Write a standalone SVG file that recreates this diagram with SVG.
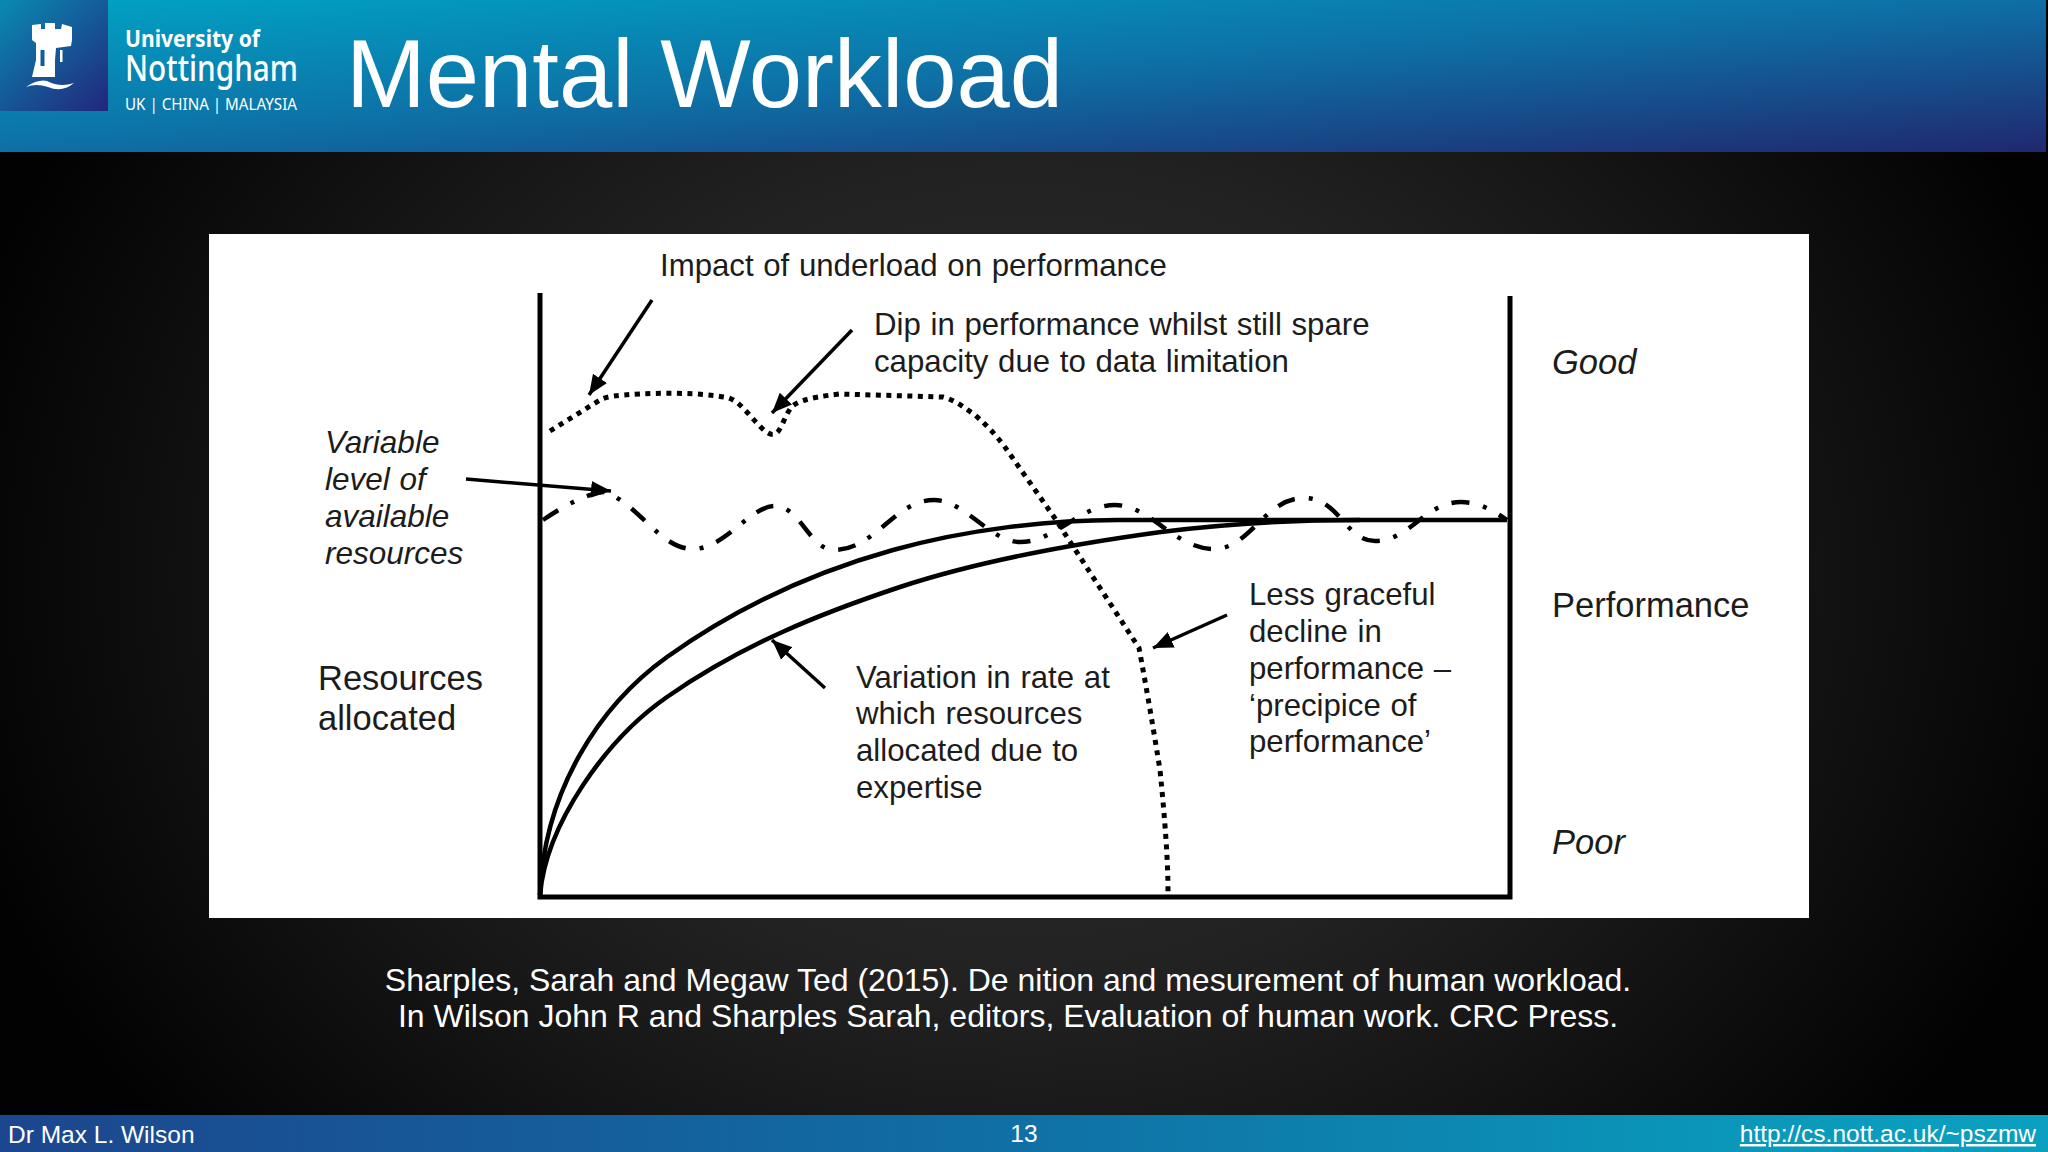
<svg xmlns="http://www.w3.org/2000/svg" width="2048" height="1152" viewBox="0 0 2048 1152">
<defs>
<radialGradient id="bg" gradientUnits="userSpaceOnUse" cx="0" cy="0" r="1" gradientTransform="translate(1024 576) scale(1100 900)"><stop offset="0" stop-color="#303030"/><stop offset="0.45" stop-color="#222"/><stop offset="0.7" stop-color="#141414"/><stop offset="1" stop-color="#020202"/></radialGradient>
<linearGradient id="hd" x1="0" y1="0" x2="1" y2="1"><stop offset="0" stop-color="#00a3c4"/><stop offset="0.5" stop-color="#0e6fa5"/><stop offset="1" stop-color="#20286f"/></linearGradient>
<linearGradient id="ft" x1="0" y1="0" x2="1" y2="0"><stop offset="0" stop-color="#1c468e"/><stop offset="0.5" stop-color="#1070a5"/><stop offset="0.85" stop-color="#0a98ba"/><stop offset="1" stop-color="#0aa0c0"/></linearGradient>
<linearGradient id="lg" x1="0.1" y1="0" x2="1" y2="1"><stop offset="0" stop-color="#0a86b0"/><stop offset="1" stop-color="#22267c"/></linearGradient>
<marker id="ah" markerUnits="userSpaceOnUse" markerWidth="22" markerHeight="18" refX="20" refY="9" orient="auto"><path d="M0 .5L20 9L0 17.500z" fill="#000"/></marker>
</defs>
<style>
.t{font-family:"Liberation Sans",Arial,sans-serif;font-size:31.2px;word-spacing:1px;fill:#1c1c1c}
.i{font-style:italic;font-size:31.5px}
.b{font-size:34.5px;word-spacing:0}
.w{font-family:"Liberation Sans",Arial,sans-serif;fill:#fff}
.l{font-family:"Noto Sans",sans-serif;fill:#fff}
.ax{stroke:#000;stroke-width:5;fill:none}
.cv{stroke:#000;stroke-width:4.500;fill:none}
.ar{stroke:#000;stroke-width:3.500;fill:none;marker-end:url(#ah)}
</style>
<rect width="2048" height="1152" fill="url(#bg)"/>
<g id="header">
<rect width="2046" height="152" fill="url(#hd)"/>
<rect width="108" height="111" fill="url(#lg)"/>
<path fill-rule="evenodd" d="M32 25L41 24V29H45V23H55V29H61L62 24L72 27V40L71 46L56 48L55 60V77H32L36 60V43L32 40zM40.500 50V66H44.500V50z" fill="#fff"/>
<rect x="60" y="50" width="2.500" height="12" fill="#fff"/>
<path d="M26 87Q38 79 47 81Q60 88 74 83Q62 93 48 87Q36 83 26 87z" fill="#fff"/>
<text class="l" x="125" y="47" font-size="24" font-weight="700" textLength="135" lengthAdjust="spacingAndGlyphs">University of</text>
<text class="l" x="125" y="81" font-size="36" font-weight="500" textLength="173" lengthAdjust="spacingAndGlyphs">Nottingham</text>
<text class="l" x="125" y="110" font-size="15.500" textLength="172" lengthAdjust="spacingAndGlyphs">UK | CHINA | MALAYSIA</text>
<text class="w" x="346" y="107" font-size="95.800">Mental Workload</text>
</g>
<rect id="panel" x="209" y="234" width="1600" height="684" fill="#fff"/>
<g id="axes">
<path class="ax" d="M540 293V897H1510V296"/>
</g>
<g id="connectors">
<path class="ar" d="M652 300L589 395"/>
<path class="ar" d="M852 330L772 413"/>
<path class="ar" d="M466 479L611 491"/>
<path class="ar" d="M1227 615L1153 648"/>
<path class="ar" d="M825 688L772 640"/>
</g>
<g id="curves">
<path d="M550 431L600 400C607 396 620 395 640 394C660 393 700 392 729 398C740 402 748 414 757 423C764 431 770 436 775 434C781 431 783 420 790 409C795 402 805 398 839 394L943 397C955 400 965 408 975 415C990 428 1000 440 1007 450L1054 517L1139 648C1145 680 1152 720 1160 770C1165 820 1168 860 1168 892" fill="none" stroke="#000" stroke-width="5" stroke-dasharray="5 5.500"/>
<path d="M543 520C565 505 590 492 605 492C640 505 660 549 693 549C725 549 750 506 775 506C800 506 810 550 834 550C875 550 895 500 934 500C965 500 990 542 1020 542C1055 542 1080 505 1115 505C1150 505 1175 549 1214 549C1250 549 1265 498 1304 498C1340 498 1345 541 1375 541C1410 541 1425 502 1461 502C1480 502 1495 512 1507 520" fill="none" stroke="#000" stroke-width="4.500" stroke-dasharray="18 14 4 14"/>
<path class="cv" d="M540 895C544 790 600 705 667 657C742 603 818 571 893 550C968 529 1050 520 1118 520H1507"/>
<path class="cv" d="M540 895C546 825 605 740 667 697C745 643 822 613 900 587C985 559 1080 543 1161 532C1225 524 1300 520 1360 520"/>
</g>
<g id="labels">
<text class="t" x="660" y="276">Impact of underload on performance</text>
<text class="t" x="874" y="335">Dip in performance whilst still spare</text>
<text class="t" x="874" y="372">capacity due to data limitation</text>
<text class="t i" x="325" y="453">Variable</text>
<text class="t i" x="325" y="490">level of</text>
<text class="t i" x="325" y="527">available</text>
<text class="t i" x="325" y="564">resources</text>
<text class="t b" x="318" y="690">Resources</text>
<text class="t b" x="318" y="730">allocated</text>
<text class="t" x="856" y="688">Variation in rate at</text>
<text class="t" x="856" y="724">which resources</text>
<text class="t" x="856" y="761">allocated due to</text>
<text class="t" x="856" y="798">expertise</text>
<text class="t" x="1249" y="605">Less graceful</text>
<text class="t" x="1249" y="642">decline in</text>
<text class="t" x="1249" y="679">performance –</text>
<text class="t" x="1249" y="716">‘precipice of</text>
<text class="t" x="1249" y="752">performance’</text>
<text class="t i b" x="1552" y="374">Good</text>
<text class="t b" x="1552" y="617">Performance</text>
<text class="t i b" x="1552" y="854">Poor</text>
</g>
<g id="citation" font-size="32" text-anchor="middle">
<text class="w" x="1008" y="991">Sharples, Sarah and Megaw Ted (2015). De nition and mesurement of human workload.</text>
<text class="w" x="1008" y="1027">In Wilson John R and Sharples Sarah, editors, Evaluation of human work. CRC Press.</text>
</g>
<g id="footer">
<rect y="1115" width="2048" height="37" fill="url(#ft)"/>
<text class="w" x="8" y="1143" font-size="24.500">Dr Max L. Wilson</text>
<text class="w" x="1024" y="1142" font-size="24.500" text-anchor="middle">13</text>
<text class="w" x="2036" y="1142" font-size="24.500" text-anchor="end" text-decoration="underline">http://cs.nott.ac.uk/~pszmw</text>
</g>
</svg>
